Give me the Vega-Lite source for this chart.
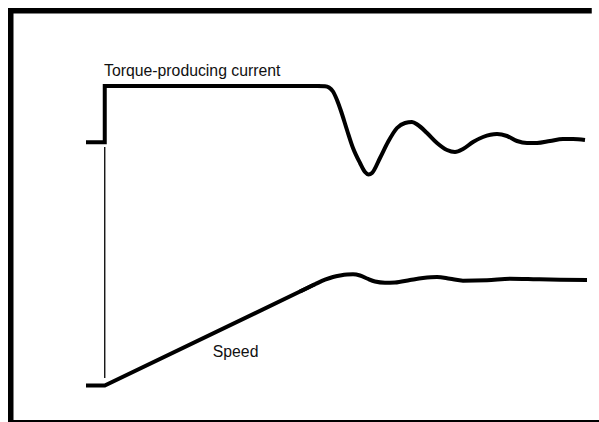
{
  "$schema": "https://vega.github.io/schema/vega-lite/v6.json",
  "autosize": {"type": "none"},
  "width": 599,
  "height": 422,
  "padding": 0,
  "background": "white",
  "config": {"view": {"stroke": null, "fill": null}},
  "datasets": {
    "frame": [
      {"side": "top", "t": -96.75, "t2": 487, "v": 374.75, "v2": 374.75},
      {"side": "left", "t": -94, "t2": -94, "v": 377.5, "v2": -36.5},
      {"side": "bottom", "t": -96.75, "t2": 494.25, "v": -37.25, "v2": -37.25}
    ],
    "linear": [
      {"s": "torque", "i": 0, "t": -18.75, "v": 243.2},
      {"s": "torque", "i": 1, "t": 0, "v": 243.2},
      {"s": "torque", "i": 2, "t": 0, "v": 299.5},
      {"s": "torque", "i": 3, "t": 215.25, "v": 299.5},
      {"s": "speed", "i": 0, "t": -18.75, "v": 0},
      {"s": "speed", "i": 1, "t": 0, "v": 0},
      {"s": "speed", "i": 2, "t": 210.25, "v": 101.2}
    ],
    "smooth": [
      {"s": "torque", "t": 195.25, "v": 299.5},
      {"s": "torque", "t": 212.25, "v": 299.5},
      {"s": "torque", "t": 220.25, "v": 299.2},
      {"s": "torque", "t": 224.25, "v": 298},
      {"s": "torque", "t": 228.25, "v": 294},
      {"s": "torque", "t": 232.25, "v": 285.5},
      {"s": "torque", "t": 236.25, "v": 274.5},
      {"s": "torque", "t": 242.25, "v": 255.5},
      {"s": "torque", "t": 248.25, "v": 237.5},
      {"s": "torque", "t": 255.25, "v": 222.5},
      {"s": "torque", "t": 260.25, "v": 213.5},
      {"s": "torque", "t": 263.75, "v": 211},
      {"s": "torque", "t": 267.25, "v": 212.5},
      {"s": "torque", "t": 275.25, "v": 227.5},
      {"s": "torque", "t": 283.25, "v": 243.5},
      {"s": "torque", "t": 292.25, "v": 257.5},
      {"s": "torque", "t": 300.25, "v": 262.5},
      {"s": "torque", "t": 307.25, "v": 263.5},
      {"s": "torque", "t": 313.25, "v": 260.5},
      {"s": "torque", "t": 322.25, "v": 252.5},
      {"s": "torque", "t": 332.25, "v": 242.5},
      {"s": "torque", "t": 342.25, "v": 235.5},
      {"s": "torque", "t": 350.25, "v": 233.5},
      {"s": "torque", "t": 358.25, "v": 236.5},
      {"s": "torque", "t": 368.25, "v": 243.5},
      {"s": "torque", "t": 378.25, "v": 248.5},
      {"s": "torque", "t": 392.25, "v": 251.5},
      {"s": "torque", "t": 402.25, "v": 249.5},
      {"s": "torque", "t": 412.25, "v": 244.5},
      {"s": "torque", "t": 422.25, "v": 242.5},
      {"s": "torque", "t": 432.25, "v": 242.5},
      {"s": "torque", "t": 445.25, "v": 244.5},
      {"s": "torque", "t": 458.25, "v": 246.5},
      {"s": "torque", "t": 468.25, "v": 246.5},
      {"s": "torque", "t": 480.25, "v": 245.5},
      {"s": "speed", "t": 195.25, "v": 94},
      {"s": "speed", "t": 210.25, "v": 101.2},
      {"s": "speed", "t": 220.25, "v": 105.8},
      {"s": "speed", "t": 228.25, "v": 108.5},
      {"s": "speed", "t": 235.25, "v": 110},
      {"s": "speed", "t": 242.25, "v": 111},
      {"s": "speed", "t": 248.25, "v": 111.2},
      {"s": "speed", "t": 255.25, "v": 110},
      {"s": "speed", "t": 262.25, "v": 107},
      {"s": "speed", "t": 270.25, "v": 104},
      {"s": "speed", "t": 280.25, "v": 102.8},
      {"s": "speed", "t": 290.25, "v": 103},
      {"s": "speed", "t": 305.25, "v": 105.5},
      {"s": "speed", "t": 318.25, "v": 107.5},
      {"s": "speed", "t": 332.25, "v": 108.5},
      {"s": "speed", "t": 345.25, "v": 106.7},
      {"s": "speed", "t": 358.25, "v": 104.8},
      {"s": "speed", "t": 382.25, "v": 105.2},
      {"s": "speed", "t": 405.25, "v": 106.8},
      {"s": "speed", "t": 432.25, "v": 106.2},
      {"s": "speed", "t": 455.25, "v": 105.7},
      {"s": "speed", "t": 482.25, "v": 105.5}
    ],
    "marker": [
      {"t": 0, "v": 238.5, "v2": 7.5}
    ],
    "labels": [
      {"t": -0.75, "v": 309.5, "label": "Torque-producing current"},
      {"t": 108, "v": 28.8, "label": "Speed"}
    ]
  },
  "layer": [
    {
      "data": {"name": "frame"},
      "mark": {"type": "rule", "color": "black", "strokeWidth": 5.5, "strokeCap": "butt"},
      "encoding": {
        "x": {"field": "t", "type": "quantitative", "scale": {"domain": [-104.75, 494.25], "nice": false, "zero": false}, "axis": null},
        "x2": {"field": "t2"},
        "y": {"field": "v", "type": "quantitative", "scale": {"domain": [-36.5, 385.5], "nice": false, "zero": false}, "axis": null},
        "y2": {"field": "v2"}
      }
    },
    {
      "data": {"name": "marker"},
      "mark": {"type": "rule", "color": "black", "strokeWidth": 1.3},
      "encoding": {
        "x": {"field": "t", "type": "quantitative", "scale": {"domain": [-104.75, 494.25], "nice": false, "zero": false}, "axis": null},
        "y": {"field": "v", "type": "quantitative", "scale": {"domain": [-36.5, 385.5], "nice": false, "zero": false}, "axis": null},
        "y2": {"field": "v2"}
      }
    },
    {
      "data": {"name": "linear"},
      "mark": {"type": "line", "color": "black", "strokeWidth": 4, "strokeCap": "butt", "strokeJoin": "miter", "interpolate": "linear"},
      "encoding": {
        "x": {"field": "t", "type": "quantitative", "scale": {"domain": [-104.75, 494.25], "nice": false, "zero": false}, "axis": null},
        "y": {"field": "v", "type": "quantitative", "scale": {"domain": [-36.5, 385.5], "nice": false, "zero": false}, "axis": null},
        "detail": {"field": "s", "type": "nominal"},
        "order": {"field": "i", "type": "quantitative"}
      }
    },
    {
      "data": {"name": "smooth"},
      "mark": {"type": "line", "color": "black", "strokeWidth": 4, "strokeCap": "butt", "interpolate": "monotone"},
      "encoding": {
        "x": {"field": "t", "type": "quantitative", "scale": {"domain": [-104.75, 494.25], "nice": false, "zero": false}, "axis": null},
        "y": {"field": "v", "type": "quantitative", "scale": {"domain": [-36.5, 385.5], "nice": false, "zero": false}, "axis": null},
        "detail": {"field": "s", "type": "nominal"}
      }
    },
    {
      "data": {"name": "labels"},
      "mark": {"type": "text", "align": "left", "baseline": "alphabetic", "font": "Liberation Sans", "fontSize": 15.8, "color": "#111"},
      "encoding": {
        "x": {"field": "t", "type": "quantitative", "scale": {"domain": [-104.75, 494.25], "nice": false, "zero": false}, "axis": null},
        "y": {"field": "v", "type": "quantitative", "scale": {"domain": [-36.5, 385.5], "nice": false, "zero": false}, "axis": null},
        "text": {"field": "label"}
      }
    }
  ]
}
